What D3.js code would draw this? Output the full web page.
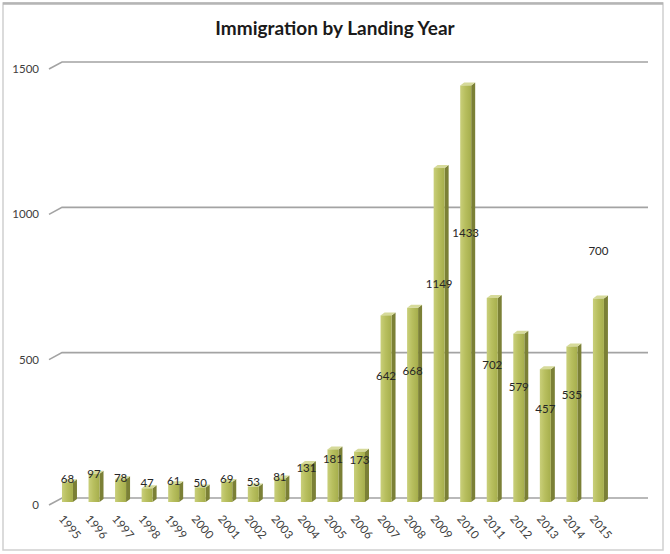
<!DOCTYPE html>
<html>
<head>
<meta charset="utf-8">
<script src="https://cdn.jsdelivr.net/npm/d3@7"></script>
<style>
  body { margin: 0; background: #fff; }
  svg { display: block; }
</style>
</head>
<body>
<div id="chart"></div>
<script>
// data
const years = ["1995","1996","1997","1998","1999","2000","2001","2002","2003","2004",
               "2005","2006","2007","2008","2009","2010","2011","2012","2013","2014","2015"];
const values = [68, 97, 78, 47, 61, 50, 69, 53, 81, 131, 181, 173, 642, 668, 1149, 1433, 702, 579, 457, 535, 700];
const yTicks = [0, 500, 1000, 1500];
const title = "Immigration by Landing Year";

function drawChart() {
    const W = 670, H = 554;
    const svg = d3.select("#chart").append("svg")
        .attr("width", W)
        .attr("height", H);

    // outer frame
    svg.append("rect")
        .attr("x", 3).attr("y", 3)
        .attr("width", 660).attr("height", 547)
        .attr("fill", "#fff")
        .attr("stroke", "#cfcfcf")
        .attr("stroke-width", 1.5);
    svg.append("line")
        .attr("x1", 3).attr("x2", 663).attr("y1", 3.5).attr("y2", 3.5)
        .attr("stroke", "#b5b5b5").attr("stroke-width", 2.5);

    const defs = svg.append("defs");
    const grad = defs.append("linearGradient").attr("id", "front")
        .attr("x1", "0%").attr("x2", "100%").attr("y1", "0%").attr("y2", "0%");
    grad.append("stop").attr("offset", "0%").attr("stop-color", "#c9cf7a");
    grad.append("stop").attr("offset", "45%").attr("stop-color", "#b8bf5f");
    grad.append("stop").attr("offset", "100%").attr("stop-color", "#a6ae4c");

    // scales: back wall (gridlines) and front plane (bars)
    const y = d3.scaleLinear().domain([0, 1500]).range([498, 62]);
    const yb = d3.scaleLinear().domain([0, 1500]).range([502, 66]);
    const x = d3.scaleBand()
        .domain(years)
        .range([48.7, 617.2])
        .paddingInner(0.586)
        .paddingOuter(0.5);
    const bw = x.bandwidth();
    const dx = 4, dy = 3;       // bar depth
    const fx = 13, fy = 7;      // floor depth

    svg.append("text")
        .attr("x", 335)
        .attr("y", 35)
        .attr("text-anchor", "middle")
        .style("font-family", "Lato, 'Open Sans', sans-serif")
        .style("font-weight", "bold")
        .style("font-size", "19px")
        .style("fill", "#1a1a1a")
        .text(title);

    // gridlines with perspective kink
    const grid = svg.append("g");
    grid.selectAll("path")
        .data(yTicks)
        .enter().append("path")
        .attr("d", d => `M${49},${y(d) + fy}L${49 + fx},${y(d)}L648,${y(d)}`)
        .attr("fill", "none")
        .attr("stroke", "#a3a3a3")
        .attr("stroke-width", 1.6);

    grid.selectAll("text")
        .data(yTicks)
        .enter().append("text")
        .attr("x", 39)
        .attr("y", d => y(d) + fy)
        .attr("dy", "0.35em")
        .attr("text-anchor", "end")
        .style("font-family", "Lato, 'Open Sans', sans-serif")
        .style("font-size", "11.5px")
        .style("fill", "#404040")
        .text(d => d);

    // bars
    const bars = svg.append("g").selectAll("g.bar")
        .data(values)
        .enter().append("g")
        .attr("class", "bar");

    bars.append("path")
        .attr("d", (d, i) => {
            const x0 = x(years[i]) + bw, t = yb(d), b = yb(0);
            return `M${x0},${t}L${x0 + dx},${t - dy}L${x0 + dx},${b - dy}L${x0},${b}Z`;
        })
        .attr("fill", "#7b8036");

    bars.append("path")
        .attr("d", (d, i) => {
            const x0 = x(years[i]), t = yb(d);
            return `M${x0},${t}L${x0 + dx},${t - dy}L${x0 + bw + dx},${t - dy}L${x0 + bw},${t}Z`;
        })
        .attr("fill", "#d6da9a");

    bars.append("rect")
        .attr("x", (d, i) => x(years[i]))
        .attr("y", d => yb(d))
        .attr("width", bw)
        .attr("height", d => yb(0) - yb(d))
        .attr("fill", "url(#front)");

    // value labels (Excel 3D placement; last one was dragged above its bar)
    const labelVal = (d, i) => i === values.length - 1 ? d + 162 : d * 0.62 + 36;
    svg.append("g").selectAll("text")
        .data(values)
        .enter().append("text")
        .attr("x", (d, i) => x(years[i]) + bw / 2)
        .attr("y", (d, i) => yb(labelVal(d, i)))
        .attr("dy", "0.35em")
        .attr("text-anchor", "middle")
        .style("font-family", "Lato, 'Open Sans', sans-serif")
        .style("font-size", "11.5px")
        .style("fill", "#262626")
        .text(d => d);

    // rotated year labels
    svg.append("g").selectAll("text")
        .data(years)
        .enter().append("text")
        .attr("transform", d => `translate(${x(d) + bw / 2 + 2.5},${527}) rotate(50)`)
        .attr("dy", "0.35em")
        .attr("text-anchor", "middle")
        .style("font-family", "Lato, 'Open Sans', sans-serif")
        .style("font-size", "11.5px")
        .style("fill", "#404040")
        .text(d => d);
}

drawChart();
</script>
</body>
</html>
